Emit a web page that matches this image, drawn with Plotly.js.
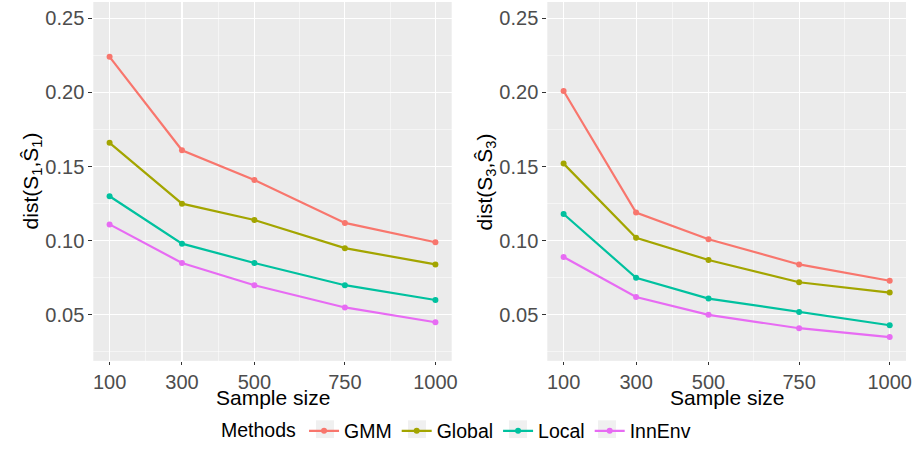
<!DOCTYPE html>
<html>
<head>
<meta charset="utf-8">
<script src="https://cdn.plot.ly/plotly-3.0.1.min.js"></script>
<style>html,body{margin:0;padding:0;background:#fff}#chart{width:915px;height:451px}</style>
</head>
<body>
<div id="chart"></div>
<script>
// ---- data ----
const sampleSizes = [100, 300, 500, 750, 1000];
const methods = ["GMM", "Global", "Local", "InnEnv"];
const colors = ["#F8766D", "#A3A500", "#00C19F", "#E76BF3"];

// panel 1: dist(S1, S1hat)
const s1_GMM    = [0.224, 0.161, 0.141, 0.112, 0.099];
const s1_Global = [0.166, 0.125, 0.114, 0.095, 0.084];
const s1_Local  = [0.130, 0.098, 0.085, 0.070, 0.060];
const s1_InnEnv = [0.111, 0.085, 0.070, 0.055, 0.045];

// panel 2: dist(S3, S3hat)
const s3_GMM    = [0.201, 0.119, 0.101, 0.084, 0.073];
const s3_Global = [0.152, 0.102, 0.087, 0.072, 0.065];
const s3_Local  = [0.118, 0.075, 0.061, 0.052, 0.043];
const s3_InnEnv = [0.089, 0.062, 0.050, 0.041, 0.035];

const xTicks = [100, 300, 500, 750, 1000];
const xMinor = [200, 400, 625, 875];
const yTicks = [0.05, 0.10, 0.15, 0.20, 0.25];
const yTickText = ["0.05", "0.10", "0.15", "0.20", "0.25"];
const yMinor = [0.025, 0.075, 0.125, 0.175, 0.225];

const panel1 = [s1_GMM, s1_Global, s1_Local, s1_InnEnv];
const panel2 = [s3_GMM, s3_Global, s3_Local, s3_InnEnv];

const W = 915, H = 451;
const traces = [];
[panel1, panel2].forEach((panel, p) => {
  panel.forEach((vals, i) => {
    traces.push({
      type: "scatter", mode: "lines+markers",
      x: sampleSizes, y: vals, name: methods[i],
      legendgroup: methods[i], showlegend: p === 0,
      xaxis: p === 0 ? "x" : "x2", yaxis: p === 0 ? "y" : "y2",
      line: {color: colors[i], width: 2.2},
      marker: {color: colors[i], size: 6},
      cliponaxis: false
    });
  });
});

const FF = "Liberation Sans, Arial, sans-serif";
const tickFont = {family: FF, size: 20, color: "#4D4D4D"};
function xax(domain, anchor) {
  return {
    domain: domain, anchor: anchor, range: [55, 1045],
    tickmode: "array", tickvals: xTicks, ticktext: xTicks.map(String),
    ticks: "outside", ticklen: 3, tickcolor: "#333333", tickwidth: 1,
    tickfont: tickFont, showgrid: true, gridcolor: "#FFFFFF", gridwidth: 1.1,
    minor: {tickmode: "array", tickvals: xMinor, showgrid: true, gridcolor: "#FFFFFF", gridwidth: 0.5, ticks: ""},
    zeroline: false, showline: false, fixedrange: true
  };
}
function yax(domain, anchor) {
  return {
    domain: domain, anchor: anchor, range: [0.019, 0.261],
    tickmode: "array", tickvals: yTicks, ticktext: yTickText,
    ticks: "outside", ticklen: 4, tickcolor: "#333333", tickwidth: 1,
    tickfont: tickFont, showgrid: true, gridcolor: "#FFFFFF", gridwidth: 1.1,
    minor: {tickmode: "array", tickvals: yMinor, showgrid: true, gridcolor: "#FFFFFF", gridwidth: 0.5, ticks: ""},
    zeroline: false, showline: false, fixedrange: true
  };
}

const yDom = [1 - 365.7 / H, 1 - 2 / H];
const x1Dom = [93.3 / W, 451.7 / W];
const x2Dom = [547.3 / W, 906 / W];
const titleFont = {family: FF, size: 21, color: "#000000"};

// legend key backgrounds (light grey squares as in ggplot)
const keyCenters = [325, 417, 518, 607];
const keyShapes = keyCenters.map(c => ({
  type: "rect", xref: "paper", yref: "paper", layer: "above",
  x0: (c - 9) / W, x1: (c + 9) / W, y0: 1 - 444 / H, y1: 1 - 426 / H,
  fillcolor: "#F0F0F0", line: {width: 0}
}));

const layout = {
  width: W, height: H,
  margin: {l: 0, r: 0, t: 0, b: 0},
  paper_bgcolor: "#FFFFFF",
  plot_bgcolor: "#EBEBEB",
  font: {family: FF},
  xaxis: xax(x1Dom, "y"),
  yaxis: yax(yDom, "x"),
  xaxis2: xax(x2Dom, "y2"),
  yaxis2: yax(yDom, "x2"),
  showlegend: true,
  shapes: keyShapes,
  legend: {
    orientation: "h", x: 0.5, xanchor: "center", y: 1 - 437 / H, yanchor: "middle",
    title: {text: "Methods", font: {size: 19.5, color: "#000", family: FF}, side: "left"},
    font: {size: 19.5, color: "#000", family: FF},
    bgcolor: "rgba(0,0,0,0)", itemwidth: 30, traceorder: "normal"
  },
  annotations: [
    {text: "Sample size", xref: "paper", yref: "paper",
     x: (x1Dom[0] + x1Dom[1]) / 2, y: 1 - 403 / H, xanchor: "center", yanchor: "middle",
     showarrow: false, font: titleFont},
    {text: "Sample size", xref: "paper", yref: "paper",
     x: (x2Dom[0] + x2Dom[1]) / 2, y: 1 - 403 / H, xanchor: "center", yanchor: "middle",
     showarrow: false, font: titleFont},
    {text: "dist(S<sub>1</sub>,Ŝ<sub>1</sub>)", xref: "paper", yref: "paper",
     x: 32 / W, y: (yDom[0] + yDom[1]) / 2, xanchor: "center", yanchor: "middle",
     textangle: -90, showarrow: false, font: titleFont},
    {text: "dist(S<sub>3</sub>,Ŝ<sub>3</sub>)", xref: "paper", yref: "paper",
     x: 486 / W, y: (yDom[0] + yDom[1]) / 2, xanchor: "center", yanchor: "middle",
     textangle: -90, showarrow: false, font: titleFont}
  ]
};

Plotly.newPlot("chart", traces, layout, {displayModeBar: false, staticPlot: true});
</script>
</body>
</html>
